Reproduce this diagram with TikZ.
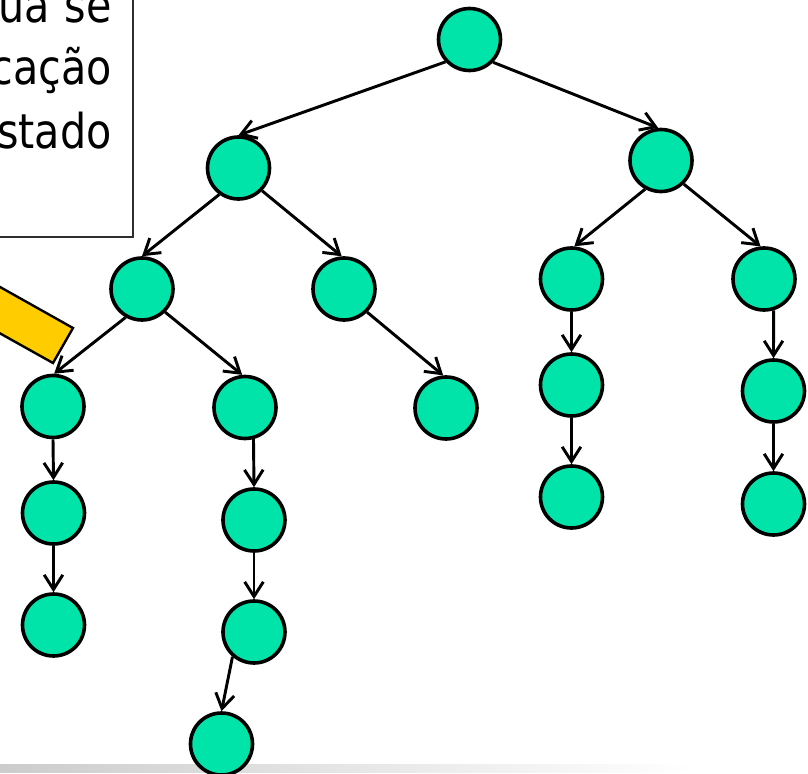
\documentclass[tikz,border=0pt]{standalone}
\usepackage{fontspec}
\newfontfamily\calloutfont[FakeStretch=0.86]{DejaVu Sans}
\usetikzlibrary{arrows.meta}
\definecolor{nodegreen}{RGB}{0,228,170}
\definecolor{pointeryellow}{RGB}{255,204,0}
\begin{document}
\begin{tikzpicture}[x=0.75pt,y=-0.75pt,
  state/.style={circle,draw=black,fill=nodegreen,line width=2.7pt,minimum size=46.5pt,inner sep=0pt},
  link/.style={line width=2.2pt,-{Straight Barb[length=11pt,width=14pt,line width=2.2pt]}},
  caption/.style={anchor=base east,inner sep=0pt,font=\calloutfont\fontsize{36}{40}\selectfont}]
\useasboundingbox (0,0) rectangle (808,774);
\clip (0,0) rectangle (808,774);

% fading rule along the bottom edge
\shade[left color=black!20,right color=white] (0,764) rectangle (693,772);

% text box in the upper left corner
\draw[draw=black!82,line width=1.8pt,fill=white] (-30,-30) rectangle (133,237);
\node[caption] (t1) at (112,23) {ua\hspace{11pt}se};
\node[caption] (t2) at (112,85) {cação};
\node[caption] (t3) at (112,149) {stado};

% yellow pointer bar
\filldraw[fill=pointeryellow,draw=black,line width=1.8pt]
  (-40,264.5) -- (73,328) -- (53,363) -- (-40,311) -- cycle;

% tree nodes
\node[state] (r) at (469.5,39.5) {};
\node[state] (a) at (238.5,168) {};
\node[state] (b) at (661,160.5) {};
\node[state] (a1) at (142,289) {};
\node[state] (a2) at (344,289) {};
\node[state] (b1) at (571.5,279) {};
\node[state] (b2) at (764,279) {};
\node[state] (a11) at (53,406.5) {};
\node[state] (a12) at (245,407.5) {};
\node[state] (a21) at (446,408) {};
\node[state] (b11) at (571.5,385) {};
\node[state] (b21) at (773.5,391) {};
\node[state] (a111) at (53.5,513) {};
\node[state] (a121) at (254,520) {};
\node[state] (b111) at (571.5,497) {};
\node[state] (b211) at (773.5,504) {};
\node[state] (a1111) at (53.5,625) {};
\node[state] (a1211) at (254,632) {};
\node[state] (a12111) at (221.5,744) {};

% connectors
\draw[link] (r.223) -- (a.90);
\draw[link] (r.316) -- (b.95);
\draw[link] (a.234) -- (a1.90);
\draw[link] (a.316) -- (a2.94);
\draw[link] (b.241) -- (b1.85);
\draw[link] (b.314) -- (b2.96);
\draw[link] (a1.240) -- (a11.88);
\draw[link] (a1.315) -- (a12.95);
\draw[link] (a2.315) -- (a21.95);
\draw[link] (a11.south) -- (a111.north);
\draw[link] (a111.south) -- (a1111.north);
\draw[link] (a12.285) -- (a121.north);
\draw[link] (a121.south) -- (a1211.north);
\draw[link] (a1211.229) -- (a12111.north);
\draw[link] (b1.south) -- (b11.north);
\draw[link] (b11.south) -- (b111.north);
\draw[link] (b2.287) -- (b21.north);
\draw[link] (b21.south) -- (b211.north);
\end{tikzpicture}
\end{document}
